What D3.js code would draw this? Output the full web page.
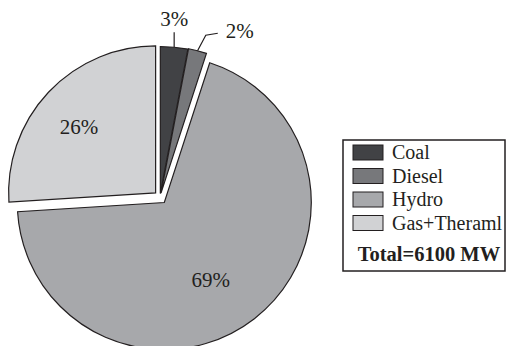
<!DOCTYPE html>
<html>
<head>
<meta charset="utf-8">
<script src="https://cdn.jsdelivr.net/npm/d3@7/dist/d3.min.js"></script>
<style>
  html, body { margin: 0; padding: 0; background: #fff; }
  svg { display: block; }
  text { font-family: "Liberation Serif", "Times New Roman", serif; fill: #231f20; }
</style>
</head>
<body>
<svg id="chart" width="515" height="346"></svg>
<script>
// Installed capacity by source
const categories = ["Coal", "Diesel", "Hydro", "Gas+Theraml"];
const shares = [3, 2, 69, 26];
const sliceColors = ["#414245", "#77787b", "#a7a8ab", "#d1d2d4"];
const totalLabel = "Total=6100 MW";

const svg = d3.select("#chart");
const cx = 160, cy = 197, R = 147;
// how far each slice is pulled out from the centre
const explode = [3.5, 4, 7, 6];
// horizontal nudge of the inside labels
const labelShift = [0, 0, -13, -6];

const data = categories.map((c, i) => ({
  name: c, value: shares[i], color: sliceColors[i], out: explode[i], shift: labelShift[i]
}));

const pie = d3.pie().value(d => d.value).sort(null).startAngle(0).endAngle(2 * Math.PI);
const arcs = pie(data);
const arc = d3.arc().innerRadius(0).outerRadius(R);

const dir = a => [Math.sin(a), -Math.cos(a)];

const g = svg.append("g").attr("transform", `translate(${cx},${cy})`);

const slices = g.selectAll("g.slice").data(arcs).join("g")
  .attr("class", "slice")
  .attr("transform", d => {
    const [ux, uy] = dir((d.startAngle + d.endAngle) / 2);
    return `translate(${ux * d.data.out},${uy * d.data.out})`;
  });

slices.append("path")
  .attr("d", arc)
  .attr("fill", d => d.data.color)
  .attr("stroke", "#231f20")
  .attr("stroke-width", 1.2)
  .attr("stroke-linejoin", "miter");

// large slices: labels inside
const inner = d3.arc().innerRadius(0).outerRadius(R * 1.32);
slices.filter(d => d.data.value >= 10).append("text")
  .attr("transform", d => `translate(${inner.centroid(d)})`)
  .attr("dx", d => d.data.shift)
  .attr("text-anchor", "middle")
  .attr("dy", "0.35em")
  .attr("font-size", 21)
  .text(d => d.data.value + "%");

// small slices: labels outside with leader lines
const small = slices.filter(d => d.data.value < 10);
small.each(function (d, i) {
  const sel = d3.select(this);
  const a = (d.startAngle + d.endAngle) / 2;
  const [ux, uy] = dir(a);
  const p0 = [ux * R, uy * R];
  if (i === 0) {
    const p1 = [ux * (R + 15), uy * (R + 15)];
    sel.append("path")
      .attr("d", d3.line()([p0, [p0[0], p1[1]]]))
      .attr("fill", "none").attr("stroke", "#231f20").attr("stroke-width", 1.2);
    sel.append("text")
      .attr("x", p0[0]).attr("y", p1[1] - 6)
      .attr("text-anchor", "middle")
      .attr("font-size", 21)
      .text(d.data.value + "%");
  } else {
    const p1 = [ux * (R + 17) + 4, uy * (R + 17) + 1];
    const p2 = [p1[0] + 12, p1[1] - 2];
    sel.append("path")
      .attr("d", d3.line()([p0, p1, p2]))
      .attr("fill", "none").attr("stroke", "#231f20").attr("stroke-width", 1.2);
    sel.append("text")
      .attr("x", p2[0] + 8).attr("y", p2[1] + 5)
      .attr("text-anchor", "start")
      .attr("font-size", 21)
      .text(d.data.value + "%");
  }
});

// legend
const lg = svg.append("g").attr("transform", "translate(343,140)");
lg.append("rect")
  .attr("x", 0).attr("y", 0).attr("width", 162).attr("height", 131)
  .attr("fill", "#fff").attr("stroke", "#231f20").attr("stroke-width", 1.5);

const rowY = d3.scaleBand().domain(categories).range([4, 98]);
const rows = lg.selectAll("g.row").data(data).join("g")
  .attr("class", "row")
  .attr("transform", d => `translate(0,${rowY(d.name)})`);
rows.append("rect")
  .attr("x", 10).attr("y", 1).attr("width", 30).attr("height", 15)
  .attr("fill", d => d.color).attr("stroke", "#231f20").attr("stroke-width", 1);
rows.append("text")
  .attr("x", 49).attr("y", 15)
  .attr("font-size", 20)
  .text(d => d.name);

lg.append("text")
  .attr("x", 86).attr("y", 121)
  .attr("text-anchor", "middle")
  .attr("font-size", 20.5)
  .attr("font-weight", "bold")
  .text(totalLabel);
</script>
</body>
</html>
